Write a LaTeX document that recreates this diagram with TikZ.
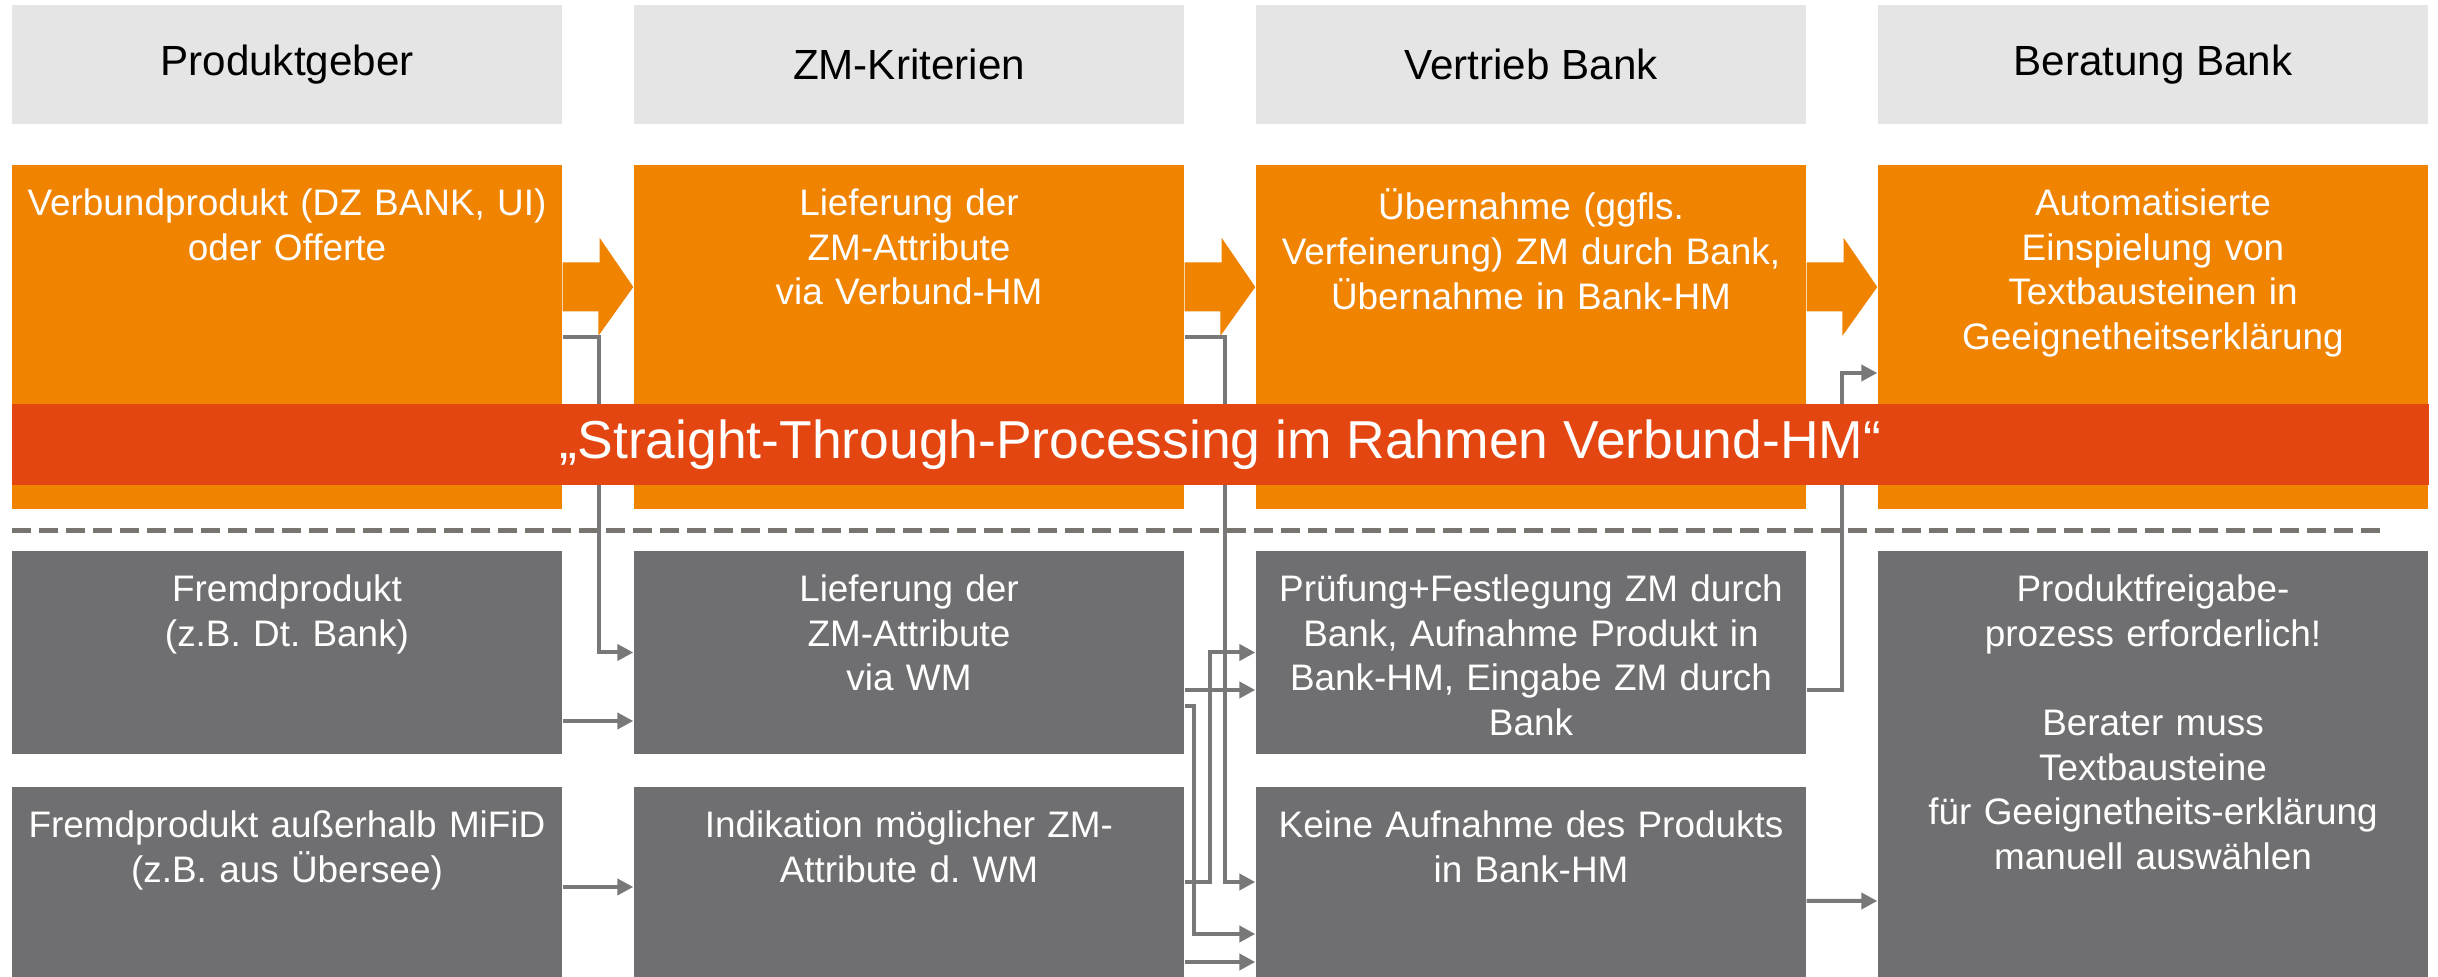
\documentclass[tikz,border=0pt]{standalone}
\usepackage{fontspec}
\setmainfont{Liberation Sans}
\frenchspacing
\usetikzlibrary{positioning,arrows.meta}
\definecolor{zmhead}{RGB}{229,229,229}
\definecolor{zmorange}{RGB}{240,131,0}
\definecolor{zmred}{RGB}{228,70,18}
\definecolor{zmgray}{RGB}{111,111,113}
\definecolor{zmline}{RGB}{120,120,120}
\definecolor{zmdash}{RGB}{120,116,112}

\begin{document}
\begin{tikzpicture}[x=1mm,y=1mm,font=\fontsize{10.5}{12.7}\selectfont,
  hdr/.style={fill=zmhead,minimum width=55mm,minimum height=11.9mm,inner sep=0,font=\fontsize{12}{14}\selectfont},
  obox/.style={fill=zmorange,minimum width=55mm,minimum height=34.4mm,inner sep=0},
  gbox/.style={fill=zmgray,minimum width=55mm,minimum height=#1,inner sep=0},
  boxtxt/.style={text=white,text width=53mm,align=center,inner xsep=0,inner ysep=2.4mm},
  link/.style={draw=zmline,line width=0.4mm,-{Triangle[length=1.6mm,width=1.6mm]}}]
\path[use as bounding box] (0,0) rectangle (243.8,97.7);
\node[hdr] (hPG) at (28.7,91.25) {Produktgeber};
\node[hdr] (hZM) at (90.9,91.25) {ZM-Kriterien};
\node[hdr] (hVB) at (153.1,91.25) {Vertrieb Bank};
\node[hdr] (hBB) at (215.3,91.25) {Beratung Bank};
\node[obox] (oPG) at (28.7,64) {};
\node[obox] (oZM) at (90.9,64) {};
\node[obox] (oVB) at (153.1,64) {};
\node[obox] (oBB) at (215.3,64) {};
\node[boxtxt,below=0pt of oPG.north] (oPGt) {Verbundprodukt (DZ BANK, UI)\\oder Offerte};
\node[boxtxt,below=0pt of oZM.north] (oZMt) {Lieferung der\\ZM-Attribute\\via Verbund-HM};
\node[boxtxt,below=0pt of oVB.north] (oVBt) {Übernahme (ggfls.\\Verfeinerung) ZM durch Bank,\\Übernahme in Bank-HM};
\node[boxtxt,below=0pt of oBB.north] (oBBt) {Automatisierte\\Einspielung von\\Textbausteinen in\\Geeignetheitserklärung};
\node[gbox=20.3mm] (gPG1) at (28.7,32.45) {};
\node[gbox=20.3mm] (gZM1) at (90.9,32.45) {};
\node[gbox=20.3mm] (gVB1) at (153.1,32.45) {};
\node[gbox=19mm] (gPG2) at (28.7,9.5) {};
\node[gbox=19mm] (gZM2) at (90.9,9.5) {};
\node[gbox=19mm] (gVB2) at (153.1,9.5) {};
\node[gbox=42.6mm] (gBB) at (215.3,21.3) {};
\node[boxtxt,below=0pt of gPG1.north] (gPG1t) {Fremdprodukt\\(z.B. Dt. Bank)};
\node[boxtxt,below=0pt of gZM1.north] (gZM1t) {Lieferung der\\ZM-Attribute\\via WM};
\node[boxtxt,below=0pt of gVB1.north] (gVB1t) {Prüfung+Festlegung ZM durch\\Bank, Aufnahme Produkt in\\Bank-HM, Eingabe ZM durch\\Bank};
\node[boxtxt,below=0pt of gPG2.north] (gPG2t) {Fremdprodukt außerhalb MiFiD\\(z.B. aus Übersee)};
\node[boxtxt,below=0pt of gZM2.north] (gZM2t) {Indikation möglicher ZM-\\Attribute d. WM};
\node[boxtxt,below=0pt of gVB2.north] (gVB2t) {Keine Aufnahme des Produkts\\in Bank-HM};
\node[boxtxt,below=0pt of gBB.north] (gBBt) {Produktfreigabe-\\prozess erforderlich!\\[12.7pt]Berater muss\\Textbausteine\\für Geeignetheits-erklärung\\manuell auswählen};
\draw[zmdash,line width=0.5mm,dash pattern=on 1.9mm off 0.8mm] (1.2,44.6) -- (238.7,44.6);
\foreach \a/\b in {PG/ZM,ZM/VB,VB/BB}
  \fill[zmorange] ([yshift=7.45mm]o\a.east) -- ++(3.7,0) -- ++(0,2.45) -- ([yshift=5mm]o\b.west)
    -- ++(-3.5,-4.9) -- ++(0,2.45) -- ([yshift=2.55mm]o\a.east) -- cycle;
\draw[link] (oPG.east) -- ++(3.6,0) |- (gZM1.west);
\draw[link] ([yshift=-6.85mm]gPG1.east) -- ([yshift=-6.85mm]gZM1.west);
\draw[link] ([yshift=-0.5mm]gPG2.east) -- ([yshift=-0.5mm]gZM2.west);
\draw[link] (oZM.east) -- ++(4,0) |- (gVB2.west);
\draw[link] (gZM2.east) -- ++(2.5,0) |- (gVB1.west);
\draw[link] ([yshift=-3.75mm]gZM1.east) -- ([yshift=-3.75mm]gVB1.west);
\draw[link] ([yshift=-5.35mm]gZM1.east) -- ++(0.9,0) |- ([yshift=-5.2mm]gVB2.west);
\draw[link] ([yshift=-8mm]gZM2.east) -- ([yshift=-8mm]gVB2.west);
\draw[link] ([yshift=-3.75mm]gVB1.east) -- ++(3.5,0) |- ([yshift=-3.6mm]oBB.west);
\draw[link] ([yshift=-1.9mm]gVB2.east) -- ([yshift=-13.7mm]gBB.west);
\node[fill=zmred,text=white,minimum width=241.7mm,minimum height=8.1mm,inner sep=0,font=\fontsize{15.2}{18}\selectfont] (band) at (122.05,53.25) {„Straight-Through-Processing im Rahmen Verbund-HM“};
\end{tikzpicture}
\end{document}
